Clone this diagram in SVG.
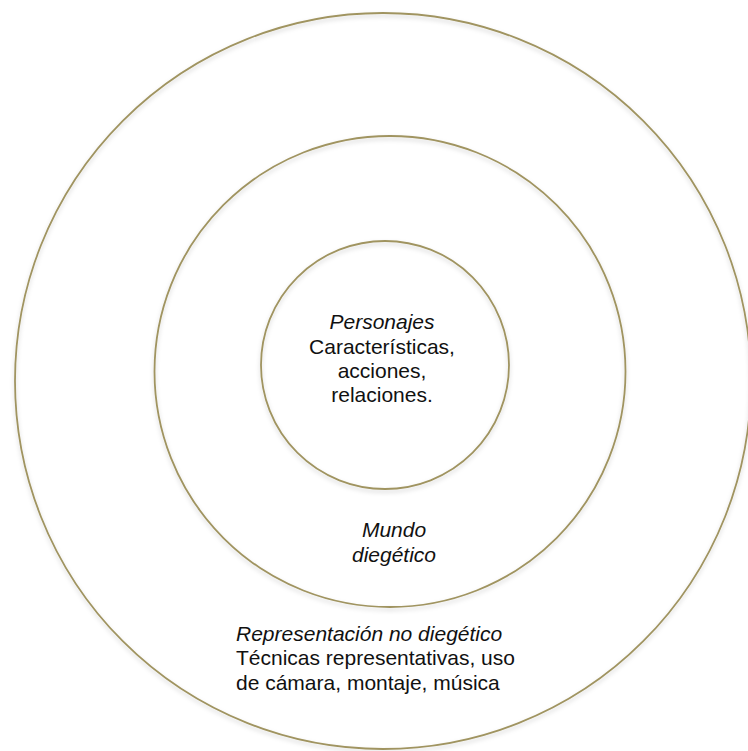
<svg xmlns="http://www.w3.org/2000/svg" width="748" height="751" viewBox="0 0 748 751">
  <defs>
    <filter id="shadow" x="-10%" y="-10%" width="120%" height="120%">
      <feDropShadow dx="0" dy="2.5" stdDeviation="2" flood-color="#000" flood-opacity="0.18"/>
    </filter>
  </defs>
  <style>
    .ring { fill: none; stroke: #a09461; stroke-width: 1.8; filter: url(#shadow); }
    .t { font-family: "Liberation Sans", Arial, sans-serif; font-size: 21px; fill: #111; }
    .i { font-style: italic; }
    .c { text-anchor: middle; }
  </style>
  <rect width="748" height="751" fill="#fff"/>
  <g id="outer">
    <circle class="ring" cx="383" cy="381" r="368"/>
    <text class="t i" x="236" y="641">Representación no diegético</text>
    <text class="t" x="236" y="665">Técnicas representativas, uso</text>
    <text class="t" x="236" y="689.5">de cámara, montaje, música</text>
  </g>
  <g id="middle">
    <circle class="ring" cx="390" cy="371.5" r="235.5"/>
    <text class="t i c" x="394" y="537">Mundo</text>
    <text class="t i c" x="394" y="561.5">diegético</text>
  </g>
  <g id="inner">
    <circle class="ring" cx="385" cy="365" r="124"/>
    <text class="t i c" x="382" y="329">Personajes</text>
    <text class="t c" x="382" y="353.5">Características,</text>
    <text class="t c" x="382" y="378">acciones,</text>
    <text class="t c" x="382" y="402">relaciones.</text>
  </g>
  <g id="connectors"></g>
</svg>
